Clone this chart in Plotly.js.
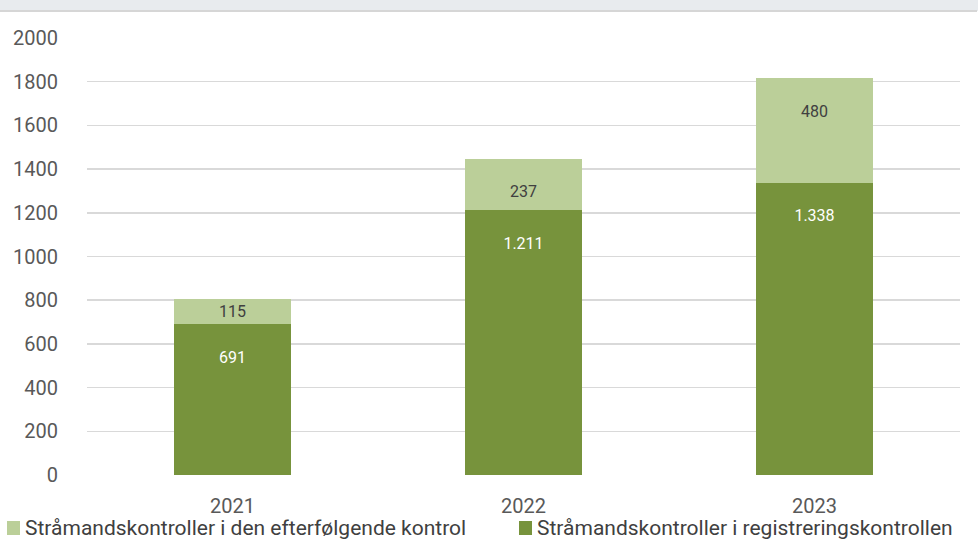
<!DOCTYPE html>
<html>
<head>
<meta charset="utf-8">
<script src="https://cdn.plot.ly/plotly-3.0.1.min.js"></script>
<style>html,body{margin:0;padding:0;background:#fff;}#chart{width:978px;height:539px;}</style>
</head>
<body>
<div id="chart"></div>
<script>
const years = ['2021', '2022', '2023'];
const registrering = [691, 1211, 1338];
const efterfoelgende = [115, 237, 480];
const seriesNames = ['Stråmandskontroller i den efterfølgende kontrol', 'Stråmandskontroller i registreringskontrollen'];
const seriesColors = ['#bbcf99', '#77933c'];
const yTicks = [0, 200, 400, 600, 800, 1000, 1200, 1400, 1600, 1800, 2000];

const FONT = 'Roboto, "Liberation Sans", sans-serif';

// labels sit a little below the top of each segment; very short segments keep a single centred line
const labelTpl = vals => vals.map(v => v < 150 ? '%{y:,}' : ' <br>%{y:,}');

const traces = [
  {
    type: 'bar', x: years, y: registrering, name: seriesNames[1],
    marker: {color: seriesColors[1]},
    texttemplate: labelTpl(registrering), textposition: 'inside', insidetextanchor: 'end', constraintext: 'none',
    textfont: {color: '#ffffff', size: 16, family: FONT},
    hoverinfo: 'none'
  },
  {
    type: 'bar', x: years, y: efterfoelgende, name: seriesNames[0],
    marker: {color: seriesColors[0]},
    texttemplate: labelTpl(efterfoelgende), textposition: 'inside', insidetextanchor: 'end', constraintext: 'none',
    textfont: {color: '#404040', size: 16, family: FONT},
    hoverinfo: 'none'
  }
];

// manual legend built from series names/colours
const W = 873, H = 437, L = 87, T = 38;
const legendX = [7, 519];
const annotations = [];
const shapes = [
  {type: 'rect', xref: 'paper', yref: 'paper', x0: -0.11, x1: 1.03, y0: (H + T - 11) / H, y1: (H + T + 5) / H,
    fillcolor: '#e8ebee', line: {width: 0}, layer: 'above'},
  {type: 'line', xref: 'paper', yref: 'paper', x0: -0.11, x1: (977 - L) / W, y0: (H + T - 11) / H, y1: (H + T - 11) / H,
    line: {color: '#d6d6d6', width: 2}}
];
seriesNames.forEach((nm, i) => {
  const px = legendX[i];
  shapes.push({type: 'rect', xref: 'paper', yref: 'paper',
    x0: (px - L) / W, x1: (px + 13 - L) / W, y0: -(60) / H, y1: -(46) / H,
    fillcolor: seriesColors[i], line: {width: 0}});
  annotations.push({xref: 'paper', yref: 'paper', x: (px + 16 - L) / W, y: -53 / H,
    xanchor: 'left', yanchor: 'middle', showarrow: false, text: nm,
    font: {size: 21, color: '#404040', family: FONT}});
});

const layout = {
  width: 978, height: 539,
  separators: ',.',
  barmode: 'stack', bargap: 0.6,
  paper_bgcolor: '#ffffff', plot_bgcolor: '#ffffff',
  font: {family: FONT, color: '#595959', size: 20},
  margin: {l: L, r: 18, t: T, b: 64},
  showlegend: false,
  xaxis: {type: 'category', showgrid: false, zeroline: false, showline: false,
    ticks: 'outside', ticklen: 13, tickcolor: 'rgba(0,0,0,0)',
    tickfont: {size: 20, color: '#595959'}},
  yaxis: {range: [0, 2000], tickvals: yTicks, showgrid: true, gridcolor: '#d9d9d9', gridwidth: 1.5,
    zeroline: false, showline: false,
    ticks: 'outside', ticklen: 24, tickcolor: 'rgba(0,0,0,0)',
    tickfont: {size: 20, color: '#595959'}},
  shapes: shapes,
  annotations: annotations
};

Plotly.newPlot('chart', traces, layout, {displayModeBar: false, staticPlot: true});
</script>
</body>
</html>
